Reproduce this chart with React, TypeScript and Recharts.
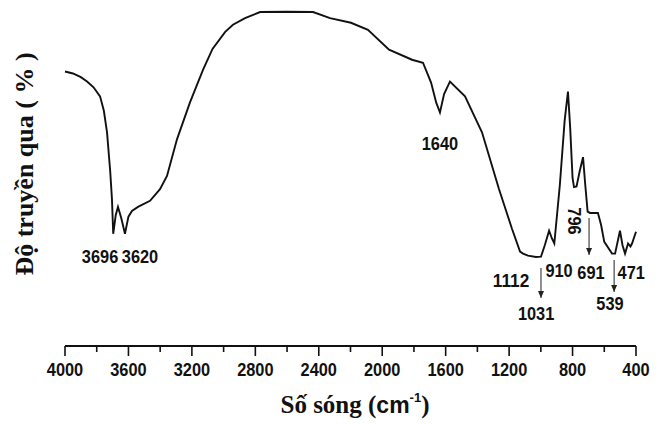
import { LineChart, Line, XAxis, YAxis, ReferenceDot, ReferenceLine } from "recharts";

// wavenumber (cm-1) and transmittance (%)
const wavenumbers = [
  4000, 3950, 3900, 3861, 3820, 3779, 3755, 3735, 3715, 3704, 3696, 3680, 3666, 3645, 3622, 3600,
  3578, 3540, 3464, 3401, 3357, 3294, 3212, 3130, 3070, 2990, 2941, 2865, 2770, 2600, 2436, 2329,
  2197, 2090, 1957, 1812, 1743, 1692, 1660, 1636, 1610, 1573, 1478, 1371, 1264, 1182, 1131, 1112,
  1081, 1031, 999, 975, 948, 930, 915, 880, 850, 829, 815, 800, 791, 775, 755, 734, 720, 705, 690,
  640, 620, 600, 551, 532, 501, 485, 469, 450, 435, 425, 400,
];
const transmittance = [
  81.7, 81.1, 80.0, 78.7, 77.0, 74.3, 70.0, 63.6, 52.0, 43.8, 33.4, 39.0, 41.4, 38.0, 33.4, 38.5,
  40.2, 41.4, 43.2, 46.7, 50.6, 61.5, 72.5, 82.2, 88.4, 93.5, 95.6, 97.6, 99.4, 99.5, 99.4, 97.6,
  96.2, 94.1, 88.2, 85.2, 84.3, 78.4, 72.5, 69.5, 75.0, 78.7, 74.3, 63.6, 46.7, 34.9, 28.1, 27.5,
  26.9, 26.5, 26.6, 30.0, 34.3, 32.0, 30.5, 48.0, 67.0, 75.7, 65.0, 50.0, 47.3, 47.5, 52.0, 56.2,
  48.0, 40.0, 39.6, 39.6, 36.0, 31.0, 27.5, 27.5, 34.3, 30.0, 27.5, 30.5, 29.6, 30.5, 34.0,
];

const xTicks = [4000, 3800, 3600, 3400, 3200, 3000, 2800, 2600, 2400, 2200, 2000, 1800, 1600, 1400, 1200, 1000, 800, 600, 400];

// peak labels: text, position (wavenumber, transmittance)
const peakLabels = ["3696", "3620", "1640", "1112", "1031", "910", "691", "539", "471"];
const peakLabelW = [3779, 3527, 1636, 1188, 1030, 885, 684, 564, 430];
const peakLabelT = [26.5, 26.5, 60.4, 19.6, 9.8, 22.6, 22.0, 12.5, 22.0];

// arrows: wavenumber, start and end transmittance
const arrowW = [999, 696, 538];
const arrowFrom = [23.2, 38.1, 25.6];
const arrowTo = [14.3, 27.1, 16.1];

const data = wavenumbers.map((w, i) => ({ w, t: transmittance[i] }));

const labelFont = "'Liberation Sans', Arial, sans-serif";
const serif = "'Liberation Serif', 'Times New Roman', serif";

// narrow bold numbers, squeezed with textLength
const Num = ({ x, y, children, rotate }: any) => {
  const s = String(children);
  return (
    <text
      x={x}
      y={y}
      dy="0.36em"
      textAnchor="middle"
      textLength={s.length * 9.1}
      lengthAdjust="spacingAndGlyphs"
      transform={rotate ? `rotate(90 ${x} ${y})` : undefined}
      fontFamily={labelFont}
      fontWeight="bold"
      fontSize={18}
      fill="#111"
    >
      {s}
    </text>
  );
};

const AxisTick = (props: any) => {
  const { x, y, payload } = props;
  const major = payload.value % 400 === 0;
  return (
    <g>
      <line x1={x} x2={x} y1={y} y2={y + (major ? 10 : 6)} stroke="#111" strokeWidth={1.6} />
      {major && <Num x={x} y={y + 24}>{payload.value}</Num>}
    </g>
  );
};

export default function App() {
  return (
    <div style={{ position: "absolute", left: 0, top: 0, width: 663, height: 424, background: "#fff" }}>
      <LineChart width={663} height={424} data={data} margin={{ top: 10, right: 27, left: 65, bottom: 18 }}>
        <XAxis
          dataKey="w"
          type="number"
          domain={[400, 4000]}
          reversed
          ticks={xTicks}
          interval={0}
          tickLine={false}
          tickSize={0}
          tickMargin={0}
          height={60}
          axisLine={{ stroke: "#111", strokeWidth: 2 }}
          tick={<AxisTick />}
        />
        <YAxis hide type="number" domain={[0, 100]} />
        <Line dataKey="t" type="linear" stroke="#111" strokeWidth={1.9} dot={false} isAnimationActive={false} />
        {arrowW.map((w, i) => (
          <ReferenceLine
            key={"a" + i}
            segment={[{ x: w, y: arrowFrom[i] }, { x: w, y: arrowTo[i] }]}
            stroke="#222"
            strokeWidth={1}
          />
        ))}
        {arrowW.map((w, i) => (
          <ReferenceDot
            key={"h" + i}
            x={w}
            y={arrowTo[i]}
            r={0}
            shape={(p: any) => (
              <polygon points={`${p.cx - 3},${p.cy - 7} ${p.cx + 3},${p.cy - 7} ${p.cx},${p.cy}`} fill="#222" />
            )}
          />
        ))}
        {peakLabels.map((txt, i) => (
          <ReferenceDot
            key={"l" + i}
            x={peakLabelW[i]}
            y={peakLabelT[i]}
            r={0}
            shape={(p: any) => <Num x={p.cx} y={p.cy}>{txt}</Num>}
          />
        ))}
        <ReferenceDot x={791} y={37.2} r={0} shape={(p: any) => <Num x={p.cx} y={p.cy} rotate>796</Num>} />
      </LineChart>
      <svg width={663} height={424} style={{ position: "absolute", left: 0, top: 0, pointerEvents: "none" }}>
        <text
          x={24}
          y={164}
          dy="0.35em"
          textAnchor="middle"
          transform="rotate(-90 24 164)"
          fontFamily={serif}
          fontWeight="bold"
          fontSize={26}
          fill="#111"
        >
          Độ truyền qua ( % )
        </text>
        <text x={355} y={413} textAnchor="middle" fontFamily={serif} fontWeight="bold" fontSize={25} fill="#111">
          Số sóng (
          <tspan fontFamily="Arial, 'Liberation Sans', sans-serif" fontSize={23}>cm</tspan>
          <tspan fontFamily="Arial, 'Liberation Sans', sans-serif" fontSize={13} dy={-11}>-1</tspan>
          <tspan dy={11}>)</tspan>
        </text>
      </svg>
    </div>
  );
}
